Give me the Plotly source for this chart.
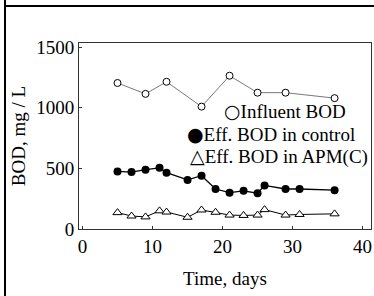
import plotly.graph_objects as go

# ---- data ----
days_influent = [5, 9, 12, 17, 21, 25, 29, 36]
influent_bod = [1205, 1115, 1215, 1010, 1265, 1125, 1125, 1080]

days_eff = [5, 7, 9, 11, 12, 15, 17, 19, 21, 23, 25, 26, 29, 31, 36]
eff_control = [475, 470, 490, 505, 465, 405, 440, 330, 300, 315, 295, 360, 330, 330, 320]
eff_apm = [135, 107, 100, 150, 140, 97, 157, 138, 115, 112, 115, 160, 115, 120, 125]

series_names = ["Influent BOD", "Eff. BOD in control", "Eff. BOD in APM(C)"]
legend_symbols = ["○", "●", "△"]

x_ticks = [0, 10, 20, 30, 40]
y_ticks = [0, 500, 1000, 1500]

FONT = "Liberation Serif"

fig = go.Figure()
fig.add_trace(go.Scatter(
    x=days_influent, y=influent_bod, mode="lines+markers", name=series_names[0],
    line=dict(color="#555", width=0.8),
    marker=dict(symbol="circle", size=7, color="white", line=dict(color="black", width=1)),
    showlegend=False))
fig.add_trace(go.Scatter(
    x=days_eff, y=eff_control, mode="lines+markers", name=series_names[1],
    line=dict(color="black", width=1.3),
    marker=dict(symbol="circle", size=8, color="black"),
    showlegend=False))
fig.add_trace(go.Scatter(
    x=days_eff, y=eff_apm, mode="lines+markers", name=series_names[2],
    line=dict(color="black", width=1),
    marker=dict(symbol="triangle-up", size=8, color="white", line=dict(color="black", width=1)),
    showlegend=False))

# legend as text (right aligned lines)
legend_pos = [(0.921, 0.634), (0.952, 0.511), (0.997, 0.392)]
for sym, name, (lx, ly) in zip(legend_symbols, series_names, legend_pos):
    fig.add_annotation(
        xref="paper", yref="paper", x=lx, y=ly, xanchor="right", yanchor="middle",
        text=f'<span style="font-family:DejaVu Sans;font-size:19px">{sym}</span>{name}',
        showarrow=False, font=dict(family=FONT, size=19, color="black"))

# outer frame lines of the original figure
fig.add_shape(type="line", xref="paper", yref="paper", x0=-0.2534, x1=-0.2534, y0=-0.36, y1=1.231,
              line=dict(color="black", width=2))
fig.add_shape(type="line", xref="paper", yref="paper", x0=-0.2534, x1=1.0103, y0=1.199, y1=1.199,
              line=dict(color="black", width=2))

fig.update_layout(
    width=374, height=296,
    margin=dict(l=79, r=3, t=43, b=67, autoexpand=False),
    paper_bgcolor="white", plot_bgcolor="white",
    font=dict(family=FONT, size=19, color="black"),
    showlegend=False,
    xaxis=dict(range=[-0.5, 41.2], tickvals=x_ticks, showgrid=False, zeroline=False,
               automargin=False,
               showline=True, mirror=True, linecolor="#333", linewidth=1,
               ticks="inside", ticklen=3, tickcolor="#333",
               title=dict(text="Time, days", standoff=15, font=dict(size=19))),
    yaxis=dict(range=[0, 1535], tickvals=y_ticks, showgrid=False, zeroline=False,
               automargin=False,
               showline=True, mirror=True, linecolor="#333", linewidth=1,
               ticks="inside", ticklen=3, tickcolor="#333",
               title=dict(text="BOD, mg / L", standoff=5, font=dict(size=19))),
)

fig.write_html("out.html",
               config={"displayModeBar": False},
               post_script="document.body.style.margin='0';document.body.style.padding='0';")
